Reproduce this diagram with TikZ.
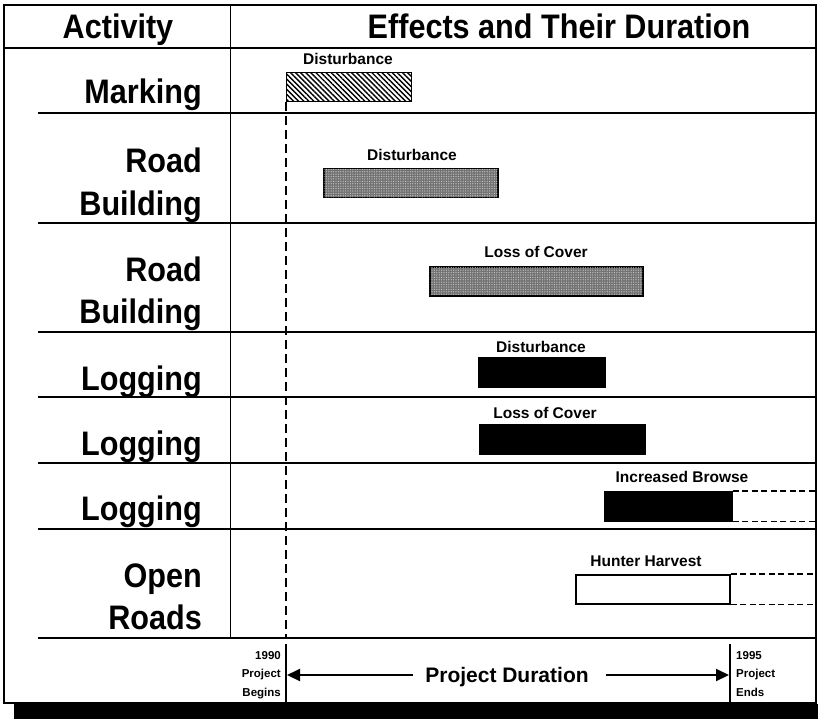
\documentclass[tikz,border=0pt]{standalone}
\usepackage{fontspec}
\setmainfont{Liberation Sans}
\newfontfamily\headfont[FakeStretch=0.9]{Liberation Sans}
\usetikzlibrary{arrows.meta,patterns.meta}

\begin{document}
\begin{tikzpicture}[x=1pt,y=-1pt,
  frame/.style={line width=1.8pt},
  rowline/.style={line width=1.4pt},
  divider/.style={line width=1pt},
  startline/.style={line width=2.6pt, dash pattern=on 9pt off 5pt},
  tick/.style={line width=1.2pt},
  head/.style={font=\headfont\bfseries\fontsize{34}{40}\selectfont, anchor=base, inner sep=0pt},
  act/.style={font=\headfont\bfseries\fontsize{34}{40}\selectfont, anchor=base east, inner sep=0pt},
  efflabel/.style={font=\bfseries\fontsize{15.5}{18}\selectfont, anchor=base, inner sep=0pt},
  bar/.style={draw, line width=1.5pt, anchor=north west, inner sep=0pt, minimum height=29pt},
  hatchbar/.style={bar, fill=white, pattern={Lines[angle=-45,distance=3.6pt,line width=1.4pt]}, pattern color=black},
  graybar/.style={bar, fill=black!55, postaction={pattern={Dots[distance=2.4pt,radius=0.6pt]}, pattern color=white!80!black}},
  blackbar/.style={bar, fill=black},
  whitebar/.style={bar, fill=white},
  ext/.style={line width=1.7pt, dash pattern=on 6pt off 3.5pt},
  yearlabel/.style={font=\bfseries\fontsize{11.5}{18.5}\selectfont, inner sep=0pt},
  dur/.style={line width=2pt, -{Triangle[length=13pt,width=12pt]}}
]
\useasboundingbox (0,0) rectangle (818,719);

% shadow bar along the bottom and the outer frame
\fill[black] (14,704) rectangle (818,719);
\draw[frame] (4,5) rectangle (816,703);

% header row and column divider
\draw[rowline] (4,48) -- (816,48);
\draw[divider] (230,5) -- (230,638);
\foreach \y in {113,223,332,397,463,529,638}
  \draw[rowline] (38,\y) -- (816,\y);

% column headings
\node[head] (hAct) at (118,39) {Activity};
\node[head] (hEff) at (559,39) {Effects and Their Duration};

% activities
\node[act] (aMark) at (202,104) {Marking};
\node[act] (aRoad1) at (202,173) {Road};
\node[act] (aBuild1) at (202,215) {Building};
\node[act] (aRoad2) at (202,281) {Road};
\node[act] (aBuild2) at (202,323) {Building};
\node[act] (aLog1) at (202,390) {Logging};
\node[act] (aLog2) at (202,455) {Logging};
\node[act] (aLog3) at (202,520) {Logging};
\node[act] (aOpen) at (202,587) {Open};
\node[act] (aRoads) at (202,629) {Roads};

% effect bars
\node[hatchbar, minimum width=125pt] (b1) at (286,72) {};
\node[graybar,  minimum width=174pt] (b2) at (323,168) {};
\node[graybar,  minimum width=213pt] (b3) at (429,266) {};
\node[blackbar, minimum width=126pt] (b4) at (478,357) {};
\node[blackbar, minimum width=165pt] (b5) at (479,424) {};
\node[blackbar, minimum width=127pt] (b6) at (604,491) {};
\node[whitebar, minimum width=154pt] (b7) at (575,574) {};

% effect labels
\node[efflabel] (l1) at (348,65) {Disturbance};
\node[efflabel] (l2) at (412,161) {Disturbance};
\node[efflabel] (l3) at (536,257) {Loss of Cover};
\node[efflabel] (l4) at (541,352) {Disturbance};
\node[efflabel] (l5) at (545,418) {Loss of Cover};
\node[efflabel] (l6) at (682,482) {Increased Browse};
\node[efflabel] (l7) at (646,566) {Hunter Harvest};

% effects lasting beyond the project
\coordinate (rb) at (816,0);
\foreach \b in {b6,b7} {
  \draw[ext] (\b.north east) -- (\b.north east -| rb);
  \draw[ext] (\b.south east) -- (\b.south east -| rb);
  \draw[ext] (\b.north east) -- (\b.south east);
}

% project start line
\coordinate (gridEnd) at (286,638);
\draw[startline] (b1.south west) -- (gridEnd);

% project duration scale
\coordinate (s90a) at (286,644);
\coordinate (s90b) at (286,702);
\coordinate (s95a) at (730,644);
\coordinate (s95b) at (730,702);
\draw[tick] (s90a) -- (s90b);
\draw[tick] (s95a) -- (s95b);

\node[yearlabel, anchor=north east, align=right] (y90) at (281,651) {1990\\Project\\Begins};
\node[yearlabel, anchor=north west, align=left] (y95) at (736,651) {1995\\Project\\Ends};

\node[font=\bfseries\fontsize{21}{24}\selectfont, anchor=base, inner sep=0pt] (pd) at (507,682) {Project Duration};
\coordinate (aL) at (413,675);
\coordinate (aR) at (606,675);
\coordinate (t90) at (287,675);
\coordinate (t95) at (729,675);
\draw[dur] (aL) -- (t90);
\draw[dur] (aR) -- (t95);
\end{tikzpicture}
\end{document}
